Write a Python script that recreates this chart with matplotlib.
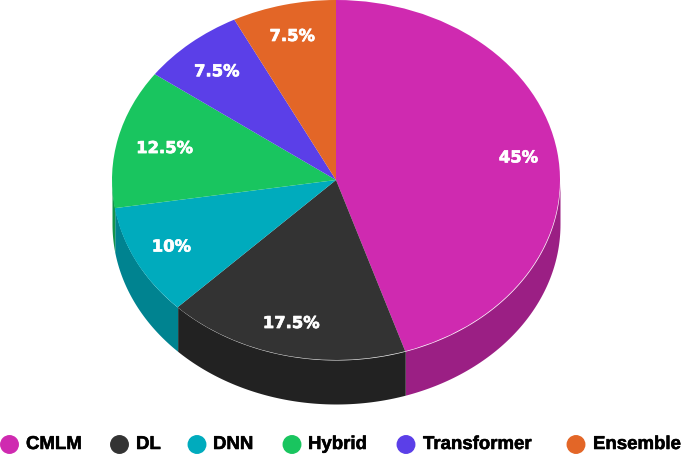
import matplotlib.pyplot as plt
import matplotlib.patheffects as pe
import numpy as np
from matplotlib.patches import Ellipse

labels = ["CMLM", "DL", "DNN", "Hybrid", "Transformer", "Ensemble"]
values = [45, 17.5, 10, 12.5, 7.5, 7.5]
colors = ["#CF2AB0", "#333333", "#00ABBD", "#19C55F", "#5B3FE8", "#E36627"]
side_colors = ["#9B1F84", "#222222", "#008390", "#13944A", "#4430AE", "#AA4D1D"]

W, H = 685, 456
CX, CY, RX, RY = 336, 181, 224, 180
DEPTH = 44

fig = plt.figure(figsize=(W / 100, H / 100), dpi=100)
ax = fig.add_axes([0, 0, 1, 1])

# side wall, only the front half of the rim shows
edges = np.cumsum([0] + values) / sum(values) * 360
for i in range(len(values)):
    a = max(edges[i], 90)
    b = min(edges[i + 1], 270)
    if b <= a:
        continue
    t = np.radians(np.linspace(a, b, 80))
    ax.fill_between(np.sin(t), np.cos(t), np.cos(t) - DEPTH / RY,
                    color=side_colors[i], lw=0)

wedges, _, pcts = ax.pie(values, colors=colors, startangle=90, counterclock=False,
                         autopct=lambda p: "%g%%" % round(p, 1), pctdistance=0.82)

# small pixel nudges for the percent labels (right, down)
nudges = [(1, 1), (-2, 0), (-1, 0), (7, 3), (0, 4), (-1, 0)]
for p, (dx, dy) in zip(pcts, nudges):
    p.set(color="white", fontsize=11.8, fontweight="bold", family="DejaVu Sans")
    p.set_path_effects([pe.withStroke(linewidth=0.5, foreground="white")])
    x, y = p.get_position()
    p.set_position((x + dx / RX, y - dy / RY))

ax.set_aspect("auto")
ax.set_xlim(-CX / RX, (W - CX) / RX)
ax.set_ylim((CY - H) / RY, CY / RY)
ax.axis("off")

# legend laid out by hand in pixel coords
marker_x = [9.5, 119.5, 197, 292, 406, 576]
text_x = [26, 136, 213, 308, 423, 593]
for name, col, mx, tx in zip(labels, colors, marker_x, text_x):
    fig.add_artist(Ellipse((mx / W, 1 - 445.5 / H), 17.5 / W, 17.5 / H, color=col,
                           transform=fig.transFigure))
    t = fig.text(tx / W, 1 - 445.5 / H, name, fontsize=13.4, fontweight="bold",
                 family="Liberation Sans", va="center", ha="left", color="black")
    t.set_path_effects([pe.withStroke(linewidth=0.4, foreground="black")])

fig.savefig("out.png", dpi=100)
